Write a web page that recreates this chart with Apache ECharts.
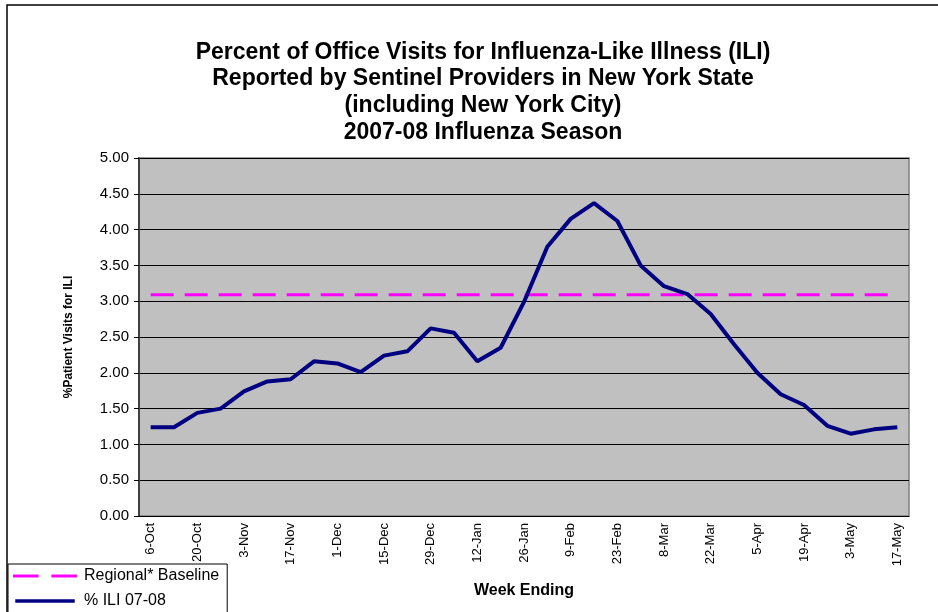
<!DOCTYPE html>
<html lang="en">
<head>
    <meta charset="UTF-8">
    <title>ILI 2007-08</title>
    <script src="https://cdn.jsdelivr.net/npm/echarts@6/dist/echarts.min.js"></script>
    <style>
        html, body { margin: 0; padding: 0; background: #fff; }
        #main { width: 938px; height: 612px; }
    </style>
</head>
<body>
    <div id="main"></div>
    <script type="text/javascript">
        // 周末日期（每周一个）
        var weeks = ['6-Oct', '13-Oct', '20-Oct', '27-Oct', '3-Nov', '10-Nov', '17-Nov', '24-Nov',
            '1-Dec', '8-Dec', '15-Dec', '22-Dec', '29-Dec', '5-Jan', '12-Jan', '19-Jan',
            '26-Jan', '2-Feb', '9-Feb', '16-Feb', '23-Feb', '1-Mar', '8-Mar', '15-Mar',
            '22-Mar', '29-Mar', '5-Apr', '12-Apr', '19-Apr', '26-Apr', '3-May', '10-May', '17-May'];
        // % ILI 07-08
        var iliValues = [1.24, 1.24, 1.44, 1.50, 1.74, 1.88, 1.91, 2.16,
            2.13, 2.01, 2.24, 2.30, 2.62, 2.56, 2.16, 2.35,
            2.99, 3.76, 4.15, 4.37, 4.12, 3.50, 3.21, 3.10,
            2.82, 2.40, 2.00, 1.70, 1.55, 1.26, 1.15, 1.21, 1.24];
        // 区域基线
        var baselineValue = 3.09;
        var baseline = weeks.map(function () { return baselineValue; });

        var titleLines = [
            'Percent of Office Visits for Influenza-Like Illness (ILI)',
            'Reported by Sentinel Providers in New York State',
            '(including New York City)',
            '2007-08 Influenza Season'
        ];

        var font = 'Liberation Sans, Arial, sans-serif';

        var option = {
            animation: false,
            textStyle: { fontFamily: font },
            title: {
                text: titleLines.join('\n'),
                left: 478,
                textAlign: 'center',
                top: 34,
                textStyle: {
                    fontFamily: font,
                    fontSize: 23,
                    fontWeight: 'bold',
                    color: '#000',
                    lineHeight: 26.7
                }
            },
            graphic: [{
                type: 'rect',
                shape: { x: 7, y: 5, width: 960, height: 640 },
                style: { fill: 'none', stroke: '#000', lineWidth: 1.5 },
                z: -10
            }],
            legend: {
                orient: 'vertical',
                left: 8,
                top: 564,
                height: 80,
                itemWidth: 64,
                itemHeight: 3.5,
                itemGap: 9,
                padding: [4, 8, 20, 5],
                borderColor: '#000',
                borderWidth: 1,
                backgroundColor: '#fff',
                textStyle: { fontFamily: font, fontSize: 16, color: '#000', padding: [0, 0, 0, 2] },
                data: [{
                    name: 'Regional* Baseline',
                    icon: 'path://M0,0H24V3H0Z M36,0H60V3H36Z'
                }, {
                    name: '% ILI 07-08',
                    icon: 'path://M0,0H68V4H0Z'
                }]
            },
            grid: {
                left: 139,
                right: 29,
                top: 158,
                bottom: 96,
                show: true,
                backgroundColor: '#C0C0C0',
                borderColor: '#808080',
                borderWidth: 1.5
            },
            xAxis: {
                type: 'category',
                data: weeks,
                boundaryGap: true,
                name: 'Week Ending',
                nameLocation: 'middle',
                nameGap: 67,
                nameTextStyle: { fontFamily: font, fontSize: 16, fontWeight: 'bold', color: '#000' },
                axisLine: { lineStyle: { color: '#000', width: 1 } },
                axisTick: { interval: 0, length: 5, lineStyle: { color: '#000' } },
                axisLabel: {
                    interval: 1,
                    rotate: 90,
                    margin: 7,
                    fontSize: 13,
                    color: '#000',
                    fontFamily: font
                }
            },
            yAxis: {
                type: 'value',
                min: 0,
                max: 5,
                interval: 0.5,
                name: '%Patient Visits for ILI',
                nameLocation: 'middle',
                nameGap: 64,
                nameTextStyle: { fontFamily: font, fontSize: 12, fontWeight: 'bold', color: '#000' },
                axisLine: { show: true, lineStyle: { color: '#404040', width: 2 } },
                axisTick: { show: true, length: 5, lineStyle: { color: '#000' } },
                splitLine: { lineStyle: { color: '#000', width: 1 } },
                axisLabel: {
                    margin: 10,
                    fontSize: 15,
                    color: '#000',
                    fontFamily: font,
                    formatter: function (v) { return v.toFixed(2); }
                }
            },
            series: [{
                name: 'Regional* Baseline',
                type: 'line',
                data: baseline,
                symbol: 'none',
                lineStyle: { color: '#FF00FF', width: 3, type: [23, 11] },
                itemStyle: { color: '#FF00FF' },
                z: 3
            }, {
                name: '% ILI 07-08',
                type: 'line',
                data: iliValues,
                symbol: 'none',
                lineStyle: { color: '#000080', width: 4 },
                itemStyle: { color: '#000080' },
                z: 4
            }]
        };

        var myChart = echarts.init(document.getElementById('main'));
        myChart.setOption(option);
    </script>
</body>
</html>
